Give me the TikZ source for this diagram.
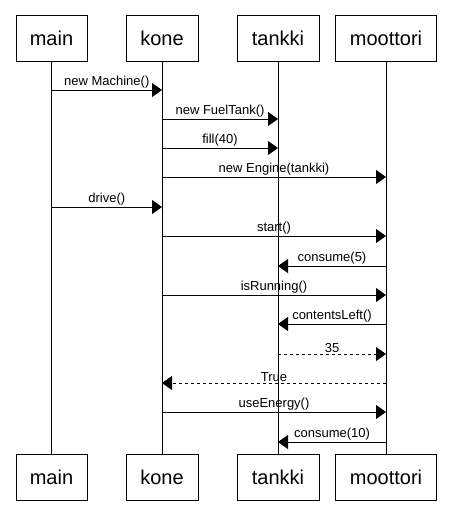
\documentclass[tikz,border=0pt]{standalone}
\usepackage{fontspec}
\setmainfont{Liberation Sans}
\usetikzlibrary{arrows.meta}
\tikzset{actor/.style={draw, thick, minimum height=46pt, inner sep=0pt, font=\fontsize{20}{22}\selectfont},
         msg/.style={thick, -{Triangle[length=10pt,width=14pt]}},
         reply/.style={msg, dashed},
         lbl/.style={above, inner sep=1pt, font=\fontsize{13}{15}\selectfont}}

\begin{document}
\begin{tikzpicture}[x=1pt,y=-1pt]
      \useasboundingbox (0,0) rectangle (451,524);
      % actors, top and bottom
      \foreach \n/\x/\w in {main/51.5/71, kone/162/72, tankki/278/82, moottori/386/101}{
        \node[actor, minimum width=\w pt] (\n) at (\x,38) {\n};
        \node[actor, minimum width=\w pt] (\n b) at (\x,477.5) {\n};
        \draw[thick] (\n) -- (\n b);
      }
      % messages
      \foreach \a/\b/\y/\t in {main/kone/90/new Machine(), kone/tankki/119/new FuelTank(),
          kone/tankki/148/fill(40), kone/moottori/177/new Engine(tankki), main/kone/207/drive(),
          kone/moottori/236/start(), moottori/tankki/266/consume(5), kone/moottori/295/isRunning(),
          moottori/tankki/324/contentsLeft(), kone/moottori/412/useEnergy(),
          moottori/tankki/442/consume(10)}
        \draw[msg] (\a |- 0,\y) -- (\b |- 0,\y) node[lbl, midway] {\t};
      \draw[reply] (tankki |- 0,354) -- (moottori |- 0,354) node[lbl, midway] {35};
      \draw[reply] (moottori |- 0,383) -- (kone |- 0,383) node[lbl, midway] {True};
    \end{tikzpicture}
\end{document}
